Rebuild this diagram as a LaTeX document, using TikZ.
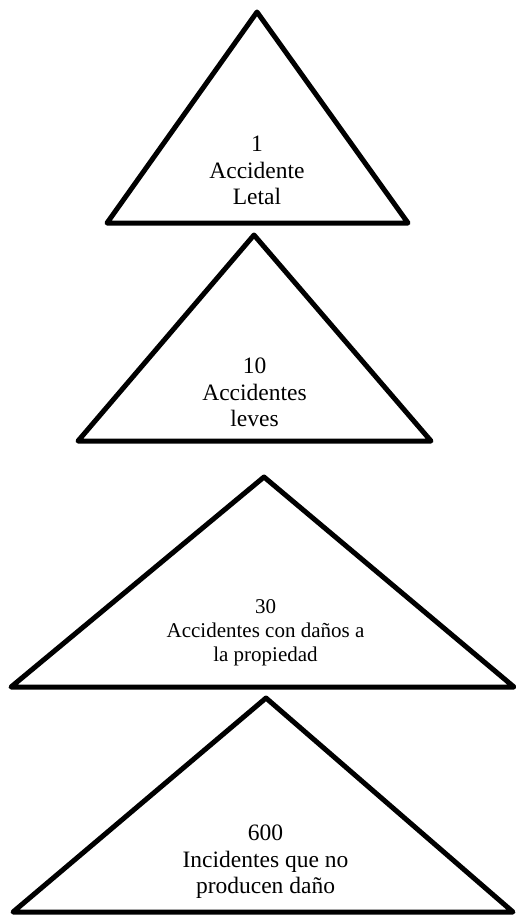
\documentclass[tikz,border=0pt]{standalone}
\usepackage{fontspec}
\setmainfont{Liberation Serif}
\usetikzlibrary{positioning}

\begin{document}
\begin{tikzpicture}[x=1pt, y=-1pt,
  tri/.style={line width=5pt, line join=round, draw=black},
  lbl/.style={align=center, inner sep=0pt,
    font=\fontsize{23.5}{26.6}\selectfont},
  lblsm/.style={lbl, font=\fontsize{21}{24.2}\selectfont},
]
\useasboundingbox (0,0) rectangle (516,915);
% corners of the four triangles
\coordinate (letalTop)   at (257, 12);
\coordinate (letalL)     at (107,223);
\coordinate (letalR)     at (408,223);
\coordinate (levesTop)   at (254,235);
\coordinate (levesL)     at (78, 441);
\coordinate (levesR)     at (431,441);
\coordinate (danosTop)   at (264,477);
\coordinate (danosL)     at (11, 687);
\coordinate (danosR)     at (514,687);
\coordinate (incidTop)   at (266,698);
\coordinate (incidL)     at (13, 912);
\coordinate (incidR)     at (513,912);
\draw[tri] (letalTop) -- (letalR) -- (letalL) -- cycle;
\draw[tri] (levesTop) -- (levesR) -- (levesL) -- cycle;
\draw[tri] (danosTop) -- (danosR) -- (danosL) -- cycle;
\draw[tri] (incidTop) -- (incidR) -- (incidL) -- cycle;
\node[lbl]   (letal) at (257,170.5) {1\\Accidente\\Letal};
\node[lbl]   (leves) at (254.5,392.5) {10\\Accidentes\\leves};
\node[lblsm] (danos) at (265.5,633) {30\\Accidentes con daños a\\la propiedad};
\node[lbl]   (incid) at (265.5,862) {600\\Incidentes que no\\producen daño};
\end{tikzpicture}
\end{document}
